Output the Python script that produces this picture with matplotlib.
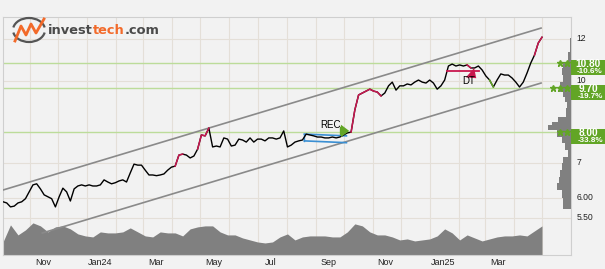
import numpy as np
import pandas as pd
import matplotlib
matplotlib.use('Agg')
import matplotlib.pyplot as plt
import matplotlib.dates as mdates
import matplotlib.transforms as mtrans
from matplotlib.patches import Rectangle, Arc
from matplotlib.lines import Line2D

plt.rcParams['font.family'] = ['Liberation Sans', 'DejaVu Sans']

# closing price, one reading every 4 days from 3 Oct 2023
price = [5.91, 5.88, 5.78, 5.80, 5.88, 5.91, 5.99, 6.17, 6.36, 6.39,
         6.25, 6.09, 6.04, 5.99, 5.78, 6.04, 6.27, 6.17, 5.93, 6.25,
         6.33, 6.36, 6.33, 6.36, 6.33, 6.33, 6.36, 6.50, 6.44, 6.39,
         6.42, 6.47, 6.50, 6.44, 6.70, 6.96, 6.93, 6.93, 6.78, 6.64,
         6.64, 6.62, 6.64, 6.67, 6.78, 6.87, 6.90, 7.24, 7.27, 7.24,
         7.15, 7.21, 7.43, 7.90, 7.87, 8.14, 7.50, 7.53, 7.50, 7.80,
         7.76, 7.53, 7.56, 7.76, 7.73, 7.66, 7.80, 7.66, 7.76, 7.76,
         7.70, 7.80, 7.80, 7.76, 7.80, 8.04, 7.50, 7.56, 7.66, 7.70,
         7.73, 7.93, 7.90, 7.87, 7.83, 7.83, 7.80, 7.80, 7.83, 7.80,
         7.83, 7.90, 7.97, 8.00, 8.81, 9.40, 9.48, 9.56, 9.64, 9.56,
         9.52, 9.36, 9.48, 9.78, 9.94, 9.60, 9.78, 9.78, 9.86, 9.82,
         9.94, 10.03, 9.94, 9.90, 10.03, 9.90, 9.64, 9.78, 10.03, 10.66,
         10.75, 10.66, 10.71, 10.66, 10.71, 10.57, 10.57, 10.66, 10.48, 10.21,
         10.03, 9.73, 10.03, 10.30, 10.25, 10.25, 10.12, 9.94, 9.73, 9.94,
         10.34, 10.80, 11.18, 11.78, 12.08]
dates = pd.date_range('2023-10-03', periods=len(price), freq='4D')

# traded volume (relative), one reading every 8 days
volume = [13, 30, 20, 25, 32, 29, 23, 28, 29, 26, 21, 19, 18, 23, 22, 22, 23, 27,
          23, 19, 18, 23, 22, 22, 19, 26, 28, 29, 29, 23, 20, 20, 17, 15, 13, 12,
          13, 18, 21, 15, 18, 19, 19, 19, 18, 18, 23, 31, 29, 23, 20, 20, 18, 15,
          16, 14, 15, 16, 19, 26, 22, 15, 20, 17, 14, 16, 18, 19, 19, 20, 19, 24, 29]
vol_dates = pd.date_range('2023-10-03', periods=len(volume), freq='8D')

# index ranges of the price line drawn in signal colours
red_parts = [(46, 48), (52, 55), (93, 101), (124, 125), (142, 144)]
green_parts = [(130, 131)]

# trend channel
upper_dates = ['2023-10-03', '2025-04-30']
upper_vals = [6.22, 12.57]
lower_dates = ['2023-11-14', '2025-04-30']
lower_vals = [5.16, 9.90]

# support levels
levels = [10.80, 9.70, 8.00]
level_text = ['10.80', '9.70', '8.00']
level_pct = ['-10.6%', '-19.7%', '-33.8%']
level_stars = [2, 3, 2]

# volume by price (right side)
hist_edges = [12.04, 11.33, 10.85, 10.57, 10.25, 9.95, 9.73, 9.52, 9.32, 9.12,
              8.89, 8.54, 8.36, 8.25, 8.07, 7.83, 7.63, 7.40, 7.18, 6.99,
              6.78, 6.58, 6.42, 6.22, 6.01, 5.83, 5.73]
hist_vol = [1, 3, 8, 9, 8, 11, 12, 8, 6, 4, 5, 13, 19, 23, 14, 9, 6, 3, 8, 9,
            11, 12, 14, 9, 8, 8]

# patterns
rec_dates = ['2024-08-20', '2024-10-04']
rec_top = [7.93, 7.87]
rec_bot = [7.70, 7.64]
dt_dates = ['2025-01-20', '2025-02-23']
dt_level = 10.43

ytick_vals = [5.5, 6, 7, 10, 12]
ytick_labels = ['5.50', '6.00', '7', '10', '12']
month_label_dates = ['2023-11-15', '2024-01-15', '2024-03-15', '2024-05-15', '2024-07-15',
                     '2024-09-15', '2024-11-15', '2025-01-15', '2025-03-15']
month_labels = ['Nov', 'Jan24', 'Mar', 'May', 'Jul', 'Sep', 'Nov', 'Jan25', 'Mar']

RED = '#c8174f'
GREEN = '#62a526'
BG = '#f2f2f2'
W, H = 605, 269

fig = plt.figure(figsize=(W / 100, H / 100), dpi=100)
fig.patch.set_facecolor(BG)
ax = fig.add_axes([3 / W, 14 / H, 568 / W, 238 / H])
ax.set_facecolor(BG)
ax.set_yscale('log')
ax.set_ylim(4.69, 13.19)
ax.set_xlim(pd.Timestamp('2023-10-03'), pd.Timestamp('2025-06-01'))

# grid
ax.xaxis.set_minor_locator(mdates.MonthLocator())
ax.set_xticks(pd.to_datetime(month_label_dates))
ax.set_xticklabels(month_labels)
ax.yaxis.tick_right()
ax.set_yticks(ytick_vals)
ax.set_yticklabels(ytick_labels)
ax.yaxis.set_minor_locator(matplotlib.ticker.NullLocator())
ax.tick_params(axis='both', which='both', length=0, labelsize=6.5, colors='#222222')
ax.tick_params(axis='x', pad=2)
ax.tick_params(axis='y', pad=4, labelsize=6.2)
ax.grid(which='minor', axis='x', color='#e4dfd8', lw=0.8)
ax.grid(which='major', axis='y', color='#e4dfd8', lw=0.8)
ax.grid(which='major', axis='x', visible=False)
ax.set_axisbelow(True)
for s in ax.spines.values():
    s.set_color('#cfcfcf')
    s.set_linewidth(0.8)
lift = mtrans.ScaledTranslation(0, 1.2 / 72, fig.dpi_scale_trans)
for lbl in ax.get_yticklabels():
    lbl.set_transform(lbl.get_transform() + lift)

# volume in the bottom of the chart
vol = np.array(volume, dtype=float)
ax.fill_between(vol_dates, 0, vol / vol.max() * 0.135, transform=ax.get_xaxis_transform(),
                color='#808080', lw=0, zorder=1.5)

# support lines
for lv in levels:
    ax.axhline(lv, color='#bcdc9a', lw=1, zorder=1.8)

# trend channel
ax.plot(pd.to_datetime(upper_dates), upper_vals, color='#8a8a8a', lw=1.2, zorder=3)
ax.plot(pd.to_datetime(lower_dates), lower_vals, color='#8a8a8a', lw=1.2, zorder=3)

# price
ax.plot(dates, price, color='black', lw=1.0, zorder=4)
for a, b in red_parts:
    ax.plot(dates[a:b + 1], price[a:b + 1], color=RED, lw=1.1, zorder=5)
for a, b in green_parts:
    ax.plot(dates[a:b + 1], price[a:b + 1], color=GREEN, lw=1.1, zorder=5)

# REC pattern
rd = pd.to_datetime(rec_dates)
ax.plot(rd, rec_top, color='#3a8fd3', lw=1.2, zorder=3.5)
ax.plot(rd, rec_bot, color='#3a8fd3', lw=1.2, zorder=3.5)
ax.plot([rd[0], rd[0]], [rec_top[0], rec_bot[0]], color='#3a8fd3', lw=1.0, zorder=3.5)
ax.annotate('', xy=(pd.Timestamp('2024-10-10'), 8.04), xytext=(pd.Timestamp('2024-09-24'), 8.04),
            arrowprops=dict(arrowstyle='simple,head_length=0.6,head_width=0.9,tail_width=0.6',
                            color=GREEN, lw=0), zorder=6)
ax.text(pd.Timestamp('2024-09-17'), 8.25, 'REC', fontsize=7, ha='center', va='center', zorder=6)

# DT pattern
dd = pd.to_datetime(dt_dates)
ax.plot(dd, [dt_level, dt_level], color=RED, lw=1.3, zorder=5)
ax.annotate('', xy=(pd.Timestamp('2025-02-22'), 10.03), xytext=(pd.Timestamp('2025-02-11'), 10.43),
            arrowprops=dict(arrowstyle='simple,head_length=0.6,head_width=0.9,tail_width=0.6',
                            color=RED, lw=0), zorder=6)
ax.text(pd.Timestamp('2025-02-12'), 10.0, 'DT', fontsize=7, ha='center', va='center', zorder=6)

# volume by price histogram
axh = fig.add_axes([540 / W, 14 / H, 31 / W, 238 / H], sharey=ax)
axh.set_xlim(31, 0)
axh.patch.set_visible(False)
axh.axis('off')
lo = hist_edges[1:]
hgt = [hist_edges[i] - hist_edges[i + 1] for i in range(len(hist_vol))]
axh.barh(lo, hist_vol, height=hgt, align='edge', color='#808080', lw=0)
star_x = {2: [11, 4], 3: [18, 11, 4]}
for lv, n in zip(levels, level_stars):
    axh.plot(star_x[n], [lv] * n, ls='none', marker='*', ms=5, color=GREEN, zorder=5)

# level boxes at the right edge
for lv, txt, pct in zip(levels, level_text, level_pct):
    yl = ax.transData.transform((mdates.date2num(dates[0]), lv))[1]
    fig.add_artist(Rectangle((571, yl - 12), 34, 15, facecolor=GREEN, edgecolor='none',
                             transform=mtrans.IdentityTransform(), zorder=10))
    fig.text(588 / W, (yl - 1.2) / H, txt, color='white', fontsize=7.3, fontweight='bold',
             ha='center', va='center', zorder=11)
    fig.text(590 / W, (yl - 8.5) / H, pct, color='white', fontsize=5.8, fontweight='bold',
             ha='center', va='center', zorder=11)

# logo
def fx(x):
    return x / W

def fy(y):
    return 1 - y / H

fig.add_artist(Arc((fx(29), fy(30)), 32 / W, 24 / H, theta1=20, theta2=160,
                   color='#555555', lw=1.6, transform=fig.transFigure))
fig.add_artist(Arc((fx(29), fy(30)), 32 / W, 24 / H, theta1=200, theta2=340,
                   color='#555555', lw=1.6, transform=fig.transFigure))
zx = [15, 21, 26, 31, 36, 44]
zy = [41, 26, 35, 24, 33, 19]
fig.add_artist(Line2D([fx(v) for v in zx], [fy(v) for v in zy], color='#f26a2a', lw=2.0,
                      transform=fig.transFigure))
r = fig.canvas.get_renderer()
xpos = 48
for part, col in [('invest', '#4a4a4a'), ('tech', '#f26a2a'), ('.com', '#4a4a4a')]:
    t = fig.text(fx(xpos), fy(31), part, color=col, fontsize=9.4, fontweight='bold',
                 family='DejaVu Sans', va='center', ha='left')
    bb = t.get_window_extent(r)
    xpos = bb.x1

fig.savefig('out.png', dpi=100, facecolor=BG)
